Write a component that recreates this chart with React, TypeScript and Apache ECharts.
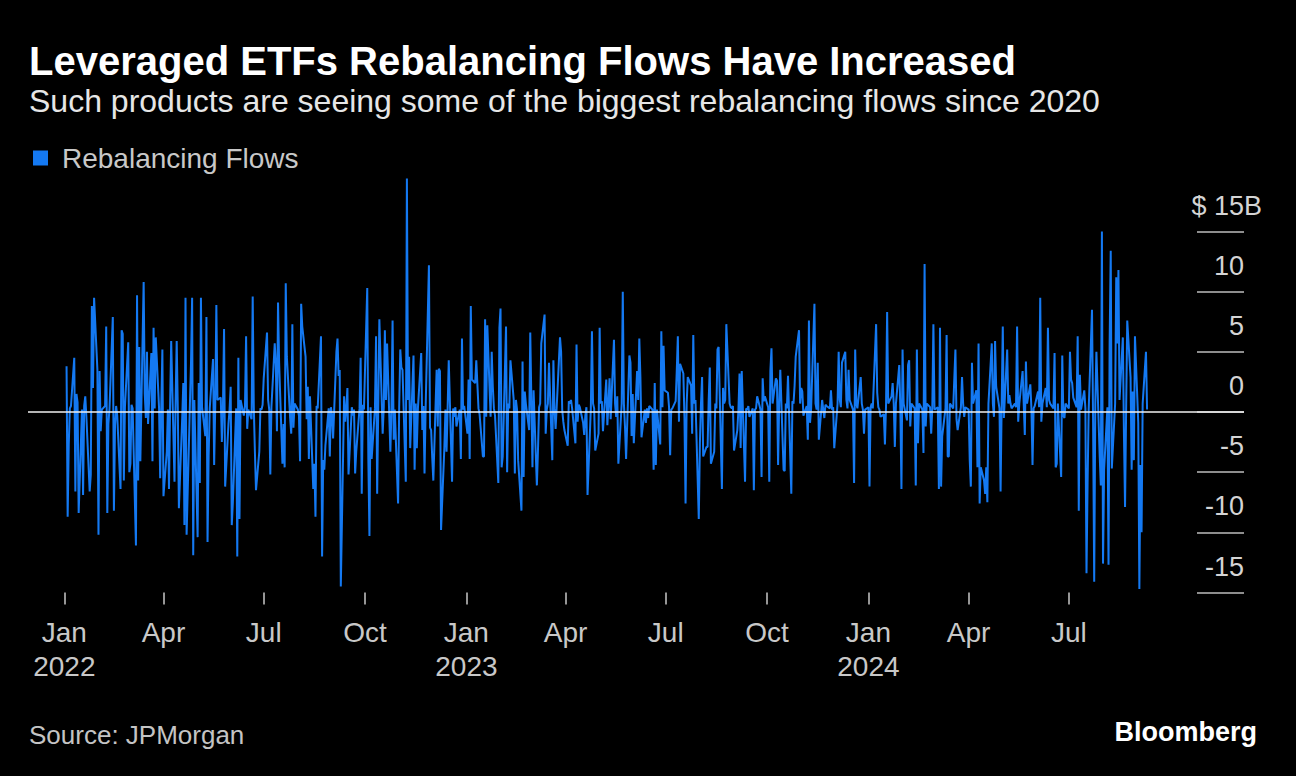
import React, { useEffect, useRef } from "react";
import * as echarts from "echarts";

// Daily rebalancing flows ($B), in trading-day order.
// Jan 3 2022 - late Mar 2022
const flows2022a = [3.8, -8.7, -2.7, 0.3, 0.5, 4.5, -6.6, 1.5, 0.8, -8.4, 0.2, -6.9, 0.5, 1.3, -0.4, -6.6, -5.2, 8.8, 2.0, 9.5, 3.5, -10.2, 3.4, -1.6, 0.2, 0.5, 7.1, -8.4, -1.0, 0.3, 7.9, -8.2, -1.1, 0.5, -0.3, -6.4, 6.8, 6.5, -5.7, 0.4, 5.8, -5.0, -4.3, 0.6, 0.3, -11.1, 9.7, -5.7, 5.4, -4.1, 10.8, 1.5, -0.5, 5.0, -1.0, 4.9, -4.1, 7.0];
// late Mar 2022 - late Jun 2022
const flows2022b = [0.3, 6.2, 0.3, -5.5, 0.4, 5.2, -7.0, -3.3, 0.2, -6.4, 0.5, 5.9, -5.8, 0.8, 5.9, 0.3, -8.0, -0.5, 2.4, -9.4, 9.5, -10.2, 0.6, 4.1, 9.5, -11.9, 1.0, -10.4, 2.4, -5.9, 9.5, 0.4, -2.0, 7.9, -10.8, -3.7, 0.3, 4.4, -4.4, 0.5, 8.9, 1.0, 1.2, -2.5, 0.4, 6.9, -6.2, -1.0, 0.2, 2.1, -9.4, -7.5, 0.3, -12.0, 4.5, -8.9, 1.0, -0.3, 0.5, 6.3, -1.4, 0.2, -0.6, 9.6, 0.4];
// late Jun 2022 - late Sep 2022
const flows2022c = [-3.3, -6.5, -3.3, 0.3, 0.2, 0.6, 2.8, 6.6, 1.0, 0.2, -5.2, 0.4, 5.7, 4.0, -1.6, 9.1, 4.1, -4.3, -1.0, -4.6, 10.7, 4.6, -0.5, -1.8, 7.3, -1.3, 0.7, 0.2, -0.3, -4.1, 9.0, 7.1, 4.6, -0.6, 2.1, -3.9, 1.3, -6.4, -4.3, -8.7, 0.5, 0.3, 6.3, -12.0, -4.0, -4.8, -2.8, 0.3, -3.7, 0.4, -0.2, -2.2, 5.0, 6.1, 3.0, 3.5, -14.5, 1.3, -0.8, 0.3, 2.0, -5.2, 0.4, -0.3, 0.2];
// late Sep 2022 - late Dec 2022
const flows2022d = [-5.1, -3.3, 0.3, 4.5, -6.8, 0.6, 0.2, 10.3, -3.9, -10.3, 0.4, -3.9, 0.3, 6.3, -6.8, 0.5, 7.7, -1.8, 0.4, 6.8, 1.0, 5.7, -3.3, 0.3, 7.6, -2.3, 0.2, -7.6, 0.4, 5.2, 3.7, 3.5, -5.8, 19.4, 1.0, 4.6, -3.0, 4.7, -4.8, 0.7, -3.0, 0.3, 4.9, -1.5, 0.5, -5.1, 0.3, 12.2, -1.3, -1.5, -3.8, -5.7, 3.5, -1.2, 3.6, 3.4, -9.8, -3.0, 0.2, -3.3, 0.4, 4.3, -5.8, 0.3, -0.4];
// late Dec 2022 - late Mar 2023
const flows2023a = [0.4, -1.2, 0.2, -3.9, 6.1, 0.2, 0.5, -1.8, 2.7, -3.9, 8.8, 2.7, 2.4, 4.3, 2.3, 0.3, -0.2, -3.7, -3.7, 7.7, -0.4, 7.2, -0.4, 5.0, 2.1, 0.3, -0.3, -5.9, 7.0, 8.6, -4.6, -3.7, 7.1, -5.0, 0.7, 0.3, 4.3, 1.0, -5.1, 1.0, 0.2, -4.0, -8.2, 4.2, -5.4, 1.7, 0.7, -1.5, 6.6, 1.0, -4.6, 1.8, -6.1, -3.2, 0.4, 0.7, 5.7, 8.1, -1.8, 0.2, 0.7, 4.1, -4.0, 4.3, 0.3];
// late Mar 2023 - late Jun 2023
const flows2023b = [-1.4, 0.4, 6.2, 5.0, 0.2, -0.8, -1.5, -2.8, 0.9, 0.7, 1.0, 0.3, -2.6, 5.6, -0.8, 0.6, 0.4, -0.9, -1.9, -0.3, 0.4, -6.9, 0.3, 6.7, 0.7, 0.3, -3.2, -1.8, 7.0, 0.7, 0.9, -1.6, 2.7, -1.1, 0.7, 2.8, -0.6, 6.0, 0.7, -0.4, 1.3, -4.3, 0.7, 10.0, 0.7, -1.2, -3.9, 4.7, 4.1, -2.0, 1.5, -2.6, 3.4, 1.0, 6.1, 2.9, -2.1, 0.2, -0.9, 0.3, -0.5, 0.5, 0.2, -4.8, 2.4];
// late Jun 2023 - late Sep 2023
const flows2023c = [-4.4, 0.2, -2.7, 6.7, 0.4, 5.5, 1.8, 1.6, 0.4, -3.6, 0.2, 0.3, 0.9, 3.4, 6.3, -0.8, 4.0, 3.2, -0.5, -7.6, 0.7, 2.9, 2.2, -1.8, 6.4, 0.7, 1.0, -8.9, -2.6, 0.7, 2.9, -3.7, -2.9, -2.9, 1.0, 3.7, -4.3, -3.3, 0.7, 0.3, 5.2, 5.4, -6.4, 2.0, 0.7, 1.0, 7.3, 0.7, 0.4, 0.3, 0.5, -3.2, -1.5, 0.2, 3.2, -3.0, 3.4, -5.8, 0.3, 0.2, 0.5, -0.4, 0.3, -6.5, 0.2];
// late Sep 2023 - late Dec 2023
const flows2023d = [0.3, 1.3, 0.2, -5.4, 2.8, 0.9, 1.3, 0.4, -5.8, 3.4, 5.3, 0.7, 2.8, 2.6, -4.4, 0.7, 3.5, -4.8, -4.9, 0.7, 0.3, 3.0, -6.8, 0.9, 0.7, 2.2, 4.6, 6.8, 0.7, 2.0, 1.7, -0.3, 0.5, -2.3, 7.6, -0.9, 0.3, 9.0, 0.7, 0.2, 4.1, -2.3, 1.0, 0.2, -0.5, 0.6, 0.5, 0.3, 1.8, 0.2, 0.4, -3.0, 0.7, 5.0, 1.0, 0.4, 4.1, 5.0, 1.0, 0.3, 3.5, 1.0, 0.2, -5.9, 5.2];
// late Dec 2023 - late Mar 2024
const flows2024a = [0.7, 0.3, 2.9, 0.7, 0.2, -1.8, 0.2, 0.4, -6.2, 0.4, 0.7, 0.3, 7.3, 1.6, 0.4, 0.2, -0.4, -0.2, -2.7, 0.5, 8.3, 0.7, 1.3, 2.4, 0.7, -2.9, 0.7, 3.9, 0.3, -6.4, 5.2, 0.7, -0.7, 3.9, 4.3, -1.2, 0.7, 0.3, -6.1, 5.2, -2.6, 0.7, 0.2, -3.4, 12.3, -1.2, 0.7, 0.4, -1.8, 0.3, 7.3, 0.2, 0.4, -6.4, 7.0, -6.2, -2.0, 0.3, 6.4, -3.7, -3.7, 0.7, 0.3, 2.8, 5.2];
// late Mar 2024 - mid Jun 2024
const flows2024b = [-0.6, -1.5, 0.4, 2.9, 0.7, -0.4, 0.4, 0.2, -4.0, -6.2, 4.1, 0.7, 1.8, -4.6, 5.7, -7.6, -4.6, -5.7, -6.8, -4.6, -7.5, 0.7, 5.7, 0.7, -0.4, 5.9, 2.1, 0.3, -6.6, 0.7, 7.1, -0.5, 5.2, 0.7, 1.4, 0.7, 0.3, 0.7, 0.4, 7.1, -0.8, 0.7, 3.4, 0.7, -1.9, 4.2, 0.7, 2.3, 0.3, -4.4, 0.3, 0.5, 1.7, 0.4, 9.5, -0.8, 0.7, 2.0, 0.4, 7.0, 1.0, 0.7, 0.3, 4.9, -4.6];
// mid Jun 2024 - early Sep 2024
const flows2024c = [-4.3, 0.7, -5.4, 4.7, -0.3, -0.5, 0.7, 0.3, 5.0, 2.7, 2.4, 1.2, 0.4, 6.3, -8.2, 3.1, 0.2, 1.8, 0.3, -13.4, -5.9, 0.2, 8.5, -0.9, -14.1, 0.7, 5.0, -3.7, -6.1, 15.0, -12.6, -4.8, 0.4, -12.7, 5.7, 13.4, -4.7, 0.7, 11.2, 5.7, 11.8, 1.0, 6.2, -1.8, -7.9, 0.3, 7.6, 2.9, -4.8, 1.7, -4.0, 6.3, -0.9, -14.7, -4.4, -10.0, 0.7, 5.0, 0.2];

const flowSegments = [flows2022a, flows2022b, flows2022c, flows2022d, flows2023a, flows2023b, flows2023c, flows2023d, flows2024a, flows2024b, flows2024c];

const monthNames = ["Jan", "Feb", "Mar", "Apr", "May", "Jun", "Jul", "Aug", "Sep", "Oct", "Nov", "Dec"];
// quarter starts used for axis ticks: [year, monthIndex]
const quarterStarts: [number, number][] = [
  [2022, 0], [2022, 3], [2022, 6], [2022, 9],
  [2023, 0], [2023, 3], [2023, 6], [2023, 9],
  [2024, 0], [2024, 3], [2024, 6],
];
const yTickValues = [-15, -10, -5, 0, 5, 10, 15];
const seriesName = "Rebalancing Flows";
const titleText = "Leveraged ETFs Rebalancing Flows Have Increased";
const subtitleText = "Such products are seeing some of the biggest rebalancing flows since 2020";
const sourceText = "Source: JPMorgan";

const BLUE = "#1479f2";
const FONT = "'Liberation Sans', Arial, sans-serif";
const LABEL_GREY = "#d4d4d4";

function tradingDays(start: Date, n: number): number[] {
  const out: number[] = [];
  const d = new Date(start.getTime());
  while (out.length < n) {
    const wd = d.getDay();
    if (wd !== 0 && wd !== 6) out.push(d.getTime());
    d.setDate(d.getDate() + 1);
  }
  return out;
}

export default function App() {
  const ref = useRef<HTMLDivElement>(null);

  useEffect(() => {
    document.body.style.margin = "0";
    const el = ref.current;
    if (!el) return;
    const chart = echarts.init(el, null, { renderer: "svg" });

    const values: number[] = ([] as number[]).concat(...flowSegments);
    const dates = tradingDays(new Date(2022, 0, 3), values.length);
    const data = values.map((v, i) => [dates[i], v]);
    const qTicks = quarterStarts.map(([y, m]) => new Date(y, m, 1).getTime());

    const richBase = { color: LABEL_GREY, fontSize: 27, fontFamily: FONT, lineHeight: 28 };

    const option: any = {
      animation: false,
      backgroundColor: "#000000",
      legend: {
        show: true,
        left: 33,
        top: 143,
        padding: 0,
        icon: "rect",
        itemWidth: 15,
        itemHeight: 15,
        data: [seriesName],
        textStyle: {
          color: "#c8c8c8",
          fontSize: 28,
          fontFamily: FONT,
          lineHeight: 30,
          padding: [0, 0, 0, 9],
        },
      },
      grid: [
        { left: 28, right: 52, top: 231.5, bottom: 183.5, containLabel: false },
        { left: 1197, right: 52, top: 231.5, bottom: 183.5, containLabel: false },
      ],
      xAxis: [
        {
          type: "value",
          gridIndex: 0,
          position: "bottom",
          min: new Date(2021, 10, 29).getTime(),
          max: new Date(2024, 11, 7).getTime(),
          axisLine: { show: true, onZero: false, lineStyle: { color: "rgba(0,0,0,0)", width: 0 } },
          splitLine: { show: false },
          axisTick: {
            show: true,
            inside: false,
            length: 12,
            customValues: qTicks,
            lineStyle: { color: "#c8c8c8", width: 1.5 },
          },
          axisLabel: {
            show: true,
            customValues: qTicks,
            margin: 23,
            color: "#c8c8c8",
            fontSize: 28,
            fontFamily: FONT,
            lineHeight: 34,
            formatter: (val: number) => {
              const d = new Date(val);
              const m = monthNames[d.getMonth()];
              return d.getMonth() === 0 ? m + "\n" + d.getFullYear() : m;
            },
          },
        },
        { type: "value", gridIndex: 1, show: false, min: 0, max: 1 },
      ],
      yAxis: [
        { type: "value", gridIndex: 0, min: -15, max: 15, interval: 5, show: false },
        {
          type: "value",
          gridIndex: 1,
          min: yTickValues[0],
          max: yTickValues[yTickValues.length - 1],
          interval: 5,
          position: "right",
          axisLine: { show: false },
          axisTick: { show: false },
          splitLine: { show: true, lineStyle: { color: "#bdbdbd", width: 1.5 } },
          axisLabel: {
            inside: true,
            margin: -18,
            color: LABEL_GREY,
            fontSize: 27,
            fontFamily: FONT,
            verticalAlign: "bottom",
            align: "right",
            lineHeight: 28,
            padding: [0, 0, 12, 0],
            formatter: (v: number) =>
              v === 15 ? "{n|$ 15}{u|B}" : "{n|" + String(v) + "}{p|\u00a0}",
            rich: {
              n: { ...richBase },
              u: { ...richBase, width: 18, align: "left" },
              p: { ...richBase, width: 18, align: "left" },
            },
          },
        },
      ],
      series: [
        {
          name: seriesName,
          type: "line",
          xAxisIndex: 0,
          yAxisIndex: 0,
          data,
          color: BLUE,
          showSymbol: false,
          symbol: "none",
          clip: false,
          lineStyle: { color: BLUE, width: 2 },
          itemStyle: { color: BLUE },
          markLine: {
            silent: true,
            symbol: ["none", "none"],
            label: { show: false },
            lineStyle: { color: "#f0f0f0", width: 1.5, type: "solid" },
            data: [{ yAxis: 0 }],
          },
        },
      ],
      graphic: [
        {
          type: "text",
          x: 29,
          y: 61,
          style: {
            text: titleText,
            fill: "#ffffff",
            font: `bold 40px ${FONT}`,
            verticalAlign: "middle",
          },
        },
        {
          type: "text",
          x: 29,
          y: 101,
          style: {
            text: subtitleText,
            fill: "#e6e6e6",
            font: `32px ${FONT}`,
            verticalAlign: "middle",
          },
        },
        {
          type: "text",
          x: 29,
          y: 735,
          style: {
            text: sourceText,
            fill: "#c4c4c4",
            font: `26px ${FONT}`,
            verticalAlign: "middle",
          },
        },
        {
          type: "text",
          x: 1257,
          y: 732,
          style: {
            text: "Bloomberg",
            fill: "#ffffff",
            font: `bold 27px ${FONT}`,
            align: "right",
            verticalAlign: "middle",
          },
        },
      ],
    };

    chart.setOption(option);
    return () => {
      chart.dispose();
    };
  }, []);

  return <div ref={ref} style={{ width: 1296, height: 776, background: "#000" }} />;
}
